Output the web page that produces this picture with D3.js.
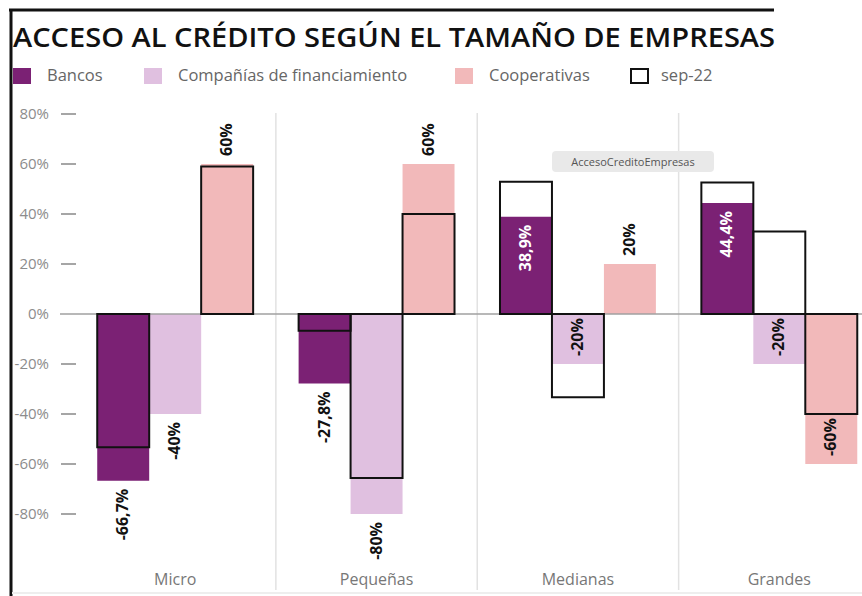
<!DOCTYPE html>
<html>
<head>
<meta charset="utf-8">
<script src="https://cdn.jsdelivr.net/npm/d3@7"></script>
<style>
	body { margin: 0; background: #fff; }
	svg { display: block; font-family: "Open Sans", sans-serif; }
</style>
</head>
<body>
<div id="graph"></div>
<script>
// values, in %
var categories = ["Micro", "Pequeñas", "Medianas", "Grandes"],
	seriesNames = ["Bancos", "Compañías de financiamiento", "Cooperativas"],
	bancos = [-66.7, -27.8, 38.9, 44.4],
	companias = [-40, -80, -20, -20],
	cooperativas = [60, 60, 20, -60],
	sep22Bancos = [-53.3, -6.7, 52.9, 52.6],
	sep22Companias = [null, -65.6, -33.3, 33],
	sep22Cooperativas = [59, 40, null, -40],
	labelBancos = ["out", "out", "in", "in"],
	labelCompanias = ["out", "out", "in", "in"],
	labelCooperativas = ["out", "out", "out", "in"],
	yTicks = [-80, -60, -40, -20, 0, 20, 40, 60, 80];

var colors = {"Bancos": "#7b2174", "Compañías de financiamiento": "#e0c0e0", "Cooperativas": "#f2b9ba"};

var W = 862, H = 596;

var svg = d3.select("div#graph")
			.append("svg")
			.attr("width", W)
			.attr("height", H);

var x = d3.scaleBand()
			.domain(categories)
			.range([74.5, 880]),
	xInner = d3.scaleBand()
			.domain(seriesNames)
			.range([0, x.bandwidth()])
			.paddingOuter(0.4375),
	y = d3.scaleLinear()
			.domain([-80, 80])
			.range([514, 114]);

var rows = [];
categories.forEach(function(c, i){
	rows.push({cat: c, s: seriesNames[0], v: bancos[i], prev: sep22Bancos[i], pos: labelBancos[i]});
	rows.push({cat: c, s: seriesNames[1], v: companias[i], prev: sep22Companias[i], pos: labelCompanias[i]});
	rows.push({cat: c, s: seriesNames[2], v: cooperativas[i], prev: sep22Cooperativas[i], pos: labelCooperativas[i]});
});

// frame
svg.append("line")
	.attr("x1", 9).attr("x2", 774)
	.attr("y1", 10).attr("y2", 10)
	.attr("stroke", "#111").attr("stroke-width", 3);
svg.append("line")
	.attr("x1", 11).attr("x2", 11)
	.attr("y1", 9).attr("y2", H)
	.attr("stroke", "#111").attr("stroke-width", 3);
svg.append("line")
	.attr("x1", 12).attr("x2", W)
	.attr("y1", 593).attr("y2", 593)
	.attr("stroke", "#eee").attr("stroke-width", 2);

svg.append("text")
	.attr("x", 13)
	.attr("y", 47)
	.attr("textLength", 762)
	.attr("lengthAdjust", "spacingAndGlyphs")
	.style("font-size", "27px")
	.style("font-weight", 600)
	.attr("fill", "#111")
	.text("ACCESO AL CRÉDITO SEGÚN EL TAMAÑO DE EMPRESAS");

// legend
var legendItems = seriesNames.concat(["sep-22"]),
	legendX = [13, 144, 455, 630];
var legend = svg.append("g").attr("class", "legend")
				.selectAll("g")
				.data(legendItems).enter()
				.append("g")
				.attr("transform", function(d, i){ return "translate(" + legendX[i] + ",68)"; });
legend.append("rect")
	.attr("x", function(d){ return d == "sep-22" ? 1 : 0; })
	.attr("y", function(d){ return d == "sep-22" ? 1 : 0; })
	.attr("width", function(d){ return d == "sep-22" ? 17 : 18; })
	.attr("height", function(d){ return d == "sep-22" ? 14 : 16; })
	.attr("fill", function(d){ return colors[d] || "none"; })
	.attr("stroke", function(d){ return d == "sep-22" ? "#111" : "none"; })
	.attr("stroke-width", 2);
legend.append("text")
	.attr("x", function(d){ return d == "sep-22" ? 31 : 34; })
	.attr("y", 13)
	.style("font-size", "16.5px")
	.attr("fill", "#666")
	.text(function(d){ return d; });

// separators between groups
svg.append("g").selectAll("line")
	.data(categories.slice(1)).enter()
	.append("line")
	.attr("x1", function(d){ return x(d); })
	.attr("x2", function(d){ return x(d); })
	.attr("y1", 113).attr("y2", 590)
	.attr("stroke", "#e2e2e2")
	.attr("stroke-width", 1.5);

// y axis
var yAxis = svg.append("g").attr("class", "y-axis");
yAxis.selectAll("text")
	.data(yTicks).enter()
	.append("text")
	.attr("x", 49)
	.attr("y", function(d){ return y(d) + 5; })
	.attr("text-anchor", "end")
	.style("font-size", "15px")
	.attr("fill", "#8c8c8c")
	.text(function(d){ return d + "%"; });
yAxis.selectAll("line")
	.data(yTicks.filter(function(d){ return d != 0; })).enter()
	.append("line")
	.attr("x1", 61).attr("x2", 76)
	.attr("y1", function(d){ return y(d); })
	.attr("y2", function(d){ return y(d); })
	.attr("stroke", "#888")
	.attr("stroke-width", 1.5);

// category labels
svg.append("g").selectAll("text")
	.data(categories).enter()
	.append("text")
	.attr("x", function(d){ return x(d) + x.bandwidth()/2; })
	.attr("y", 585)
	.attr("text-anchor", "middle")
	.style("font-size", "16px")
	.attr("fill", "#777")
	.text(function(d){ return d; });

function barX(d){ return x(d.cat) + xInner(d.s); }

// current bars
svg.append("g").selectAll("rect")
	.data(rows).enter()
	.append("rect")
	.attr("x", barX)
	.attr("y", function(d){ return y(Math.max(0, d.v)); })
	.attr("width", xInner.bandwidth())
	.attr("height", function(d){ return Math.abs(y(d.v) - y(0)); })
	.attr("fill", function(d){ return colors[d.s]; });

// zero line
svg.append("line")
	.attr("x1", 60).attr("x2", W)
	.attr("y1", y(0)).attr("y2", y(0))
	.attr("stroke", "#a0a0a0")
	.attr("stroke-width", 1.5);

// sep-22 outlines
svg.append("g").selectAll("rect")
	.data(rows.filter(function(d){ return d.prev != null; })).enter()
	.append("rect")
	.attr("x", barX)
	.attr("y", function(d){ return y(Math.max(0, d.prev)); })
	.attr("width", xInner.bandwidth())
	.attr("height", function(d){ return Math.abs(y(d.prev) - y(0)); })
	.attr("fill", "none")
	.attr("stroke", "#111")
	.attr("stroke-width", 2);

// value labels, rotated
function fmt(v){ return String(v).replace(".", ",") + "%"; }

svg.append("g").selectAll("text")
	.data(rows).enter()
	.append("text")
	.attr("transform", function(d){
		var cx = barX(d) + xInner.bandwidth()/2 + 5,
			end = y(d.v),
			off = d.pos == "in" ? -8 : 8,
			ly = d.v >= 0 ? end - off : end + off;
		return "translate(" + cx + "," + ly + ") rotate(-90)";
	})
	.attr("text-anchor", function(d){
		var up = d.v >= 0;
		if (d.pos == "in") up = !up;
		return up ? "start" : "end";
	})
	.style("font-size", "16px")
	.style("font-weight", 700)
	.attr("fill", function(d){ return (d.pos == "in" && d.s == "Bancos") ? "#fff" : "#111"; })
	.text(function(d){ return fmt(d.v); });

// tooltip-like tag seen on the picture
var tag = svg.append("g").attr("transform", "translate(552,151)");
tag.append("rect")
	.attr("width", 162).attr("height", 21).attr("rx", 4)
	.attr("fill", "#e9e9e9");
tag.append("text")
	.attr("x", 81).attr("y", 15)
	.attr("text-anchor", "middle")
	.style("font-size", "11px")
	.attr("fill", "#555")
	.text("AccesoCreditoEmpresas");
</script>
</body>
</html>
